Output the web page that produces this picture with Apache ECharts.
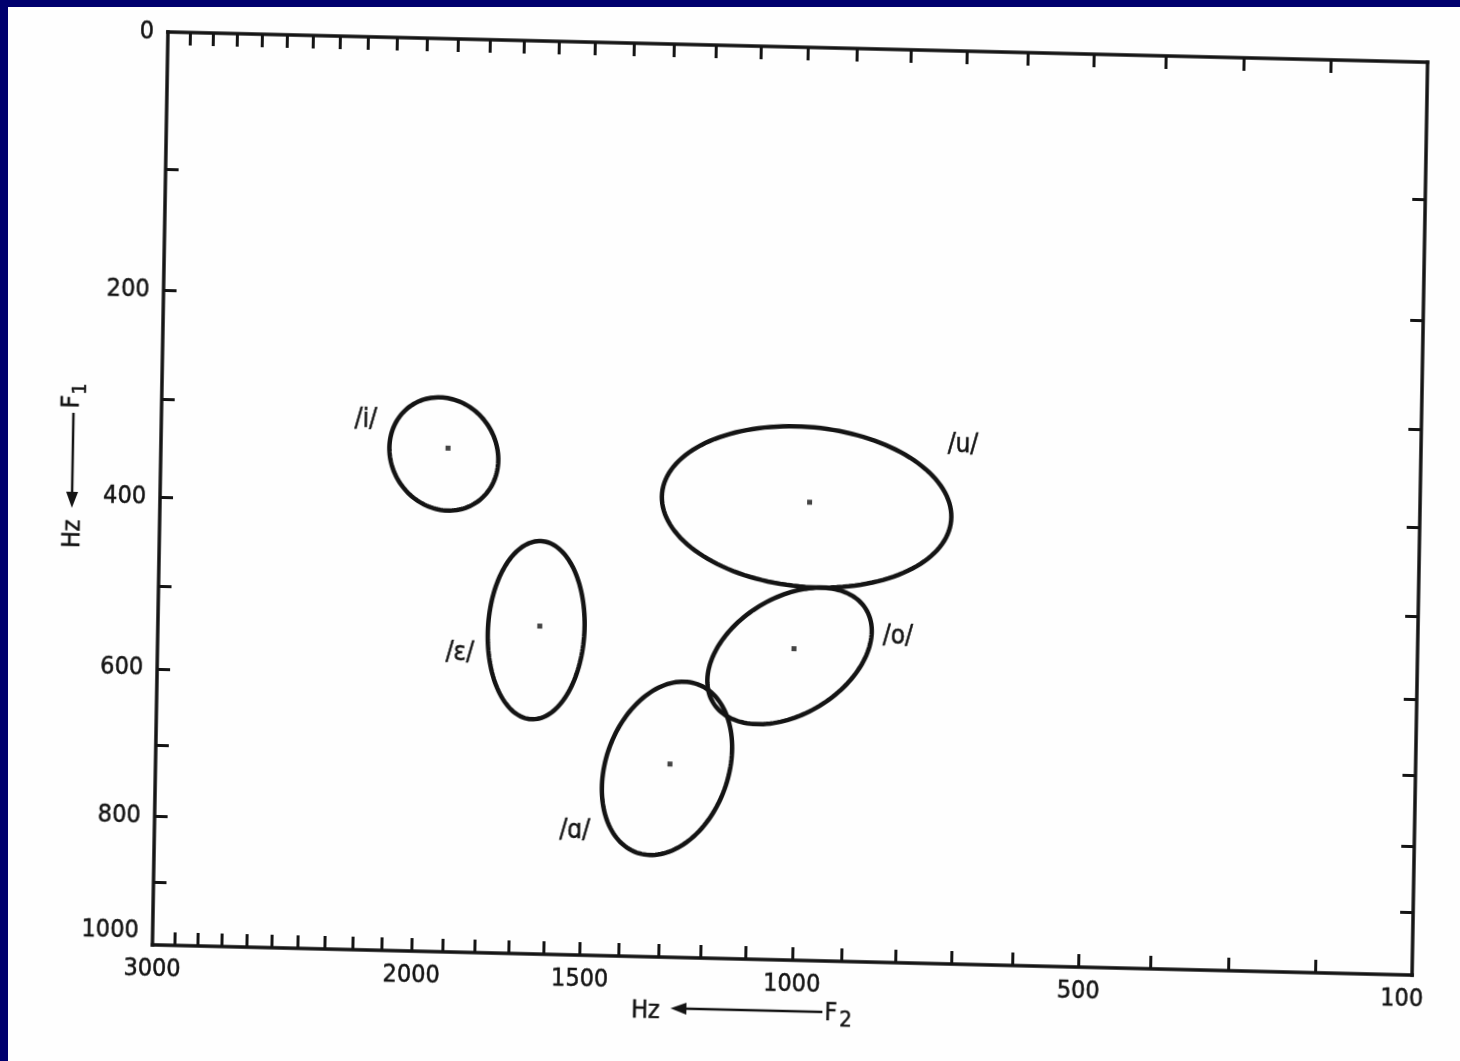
<!DOCTYPE html>
<html><head><meta charset="utf-8">
<script src="https://cdn.jsdelivr.net/npm/echarts@6/dist/echarts.min.js"></script>
<style>
html,body{margin:0;padding:0;width:1460px;height:1061px;overflow:hidden;background:#fefefe;}
#frame{position:absolute;left:0;top:0;width:1460px;height:1061px;box-sizing:border-box;border-top:7px solid #00006e;border-left:8px solid #00006e;pointer-events:none;}
#chart{position:absolute;left:0;top:0;width:1460px;height:1061px;transform-origin:168px 32px;transform:matrix(1,0.024,-0.017,1,0,0);}
</style></head><body>
<div id="chart"></div><div id="frame"></div>
<script>
// ---- data (Hz) ----
const vowels   = ['/i/', '/ε/', '/ɑ/', '/o/', '/u/'];
const meanF2   = [1910, 1626, 1280, 1007, 980];
const meanF1   = [342, 536, 709, 556, 389];
const centerF2 = [1923, 1636, 1287, 1016, 986];
const centerF1 = [348, 541, 715, 565, 394];
const axisAF2  = [1820, 1626, 1218, 865, 714];
const axisAF1  = [398, 438, 603, 507, 405];
const axisBF2  = [1788, 1503, 1152, 953, 999];
const axisBF1  = [318, 543, 742, 627, 482];
const labelF2  = [2186, 1862, 1520, 805, 696];
const labelF1  = [316, 571, 808, 539, 327];
const xRangeHz = [100, 3000];
const yRangeHz = [0, 1000];
const xTickHz  = [200,300,400,500,600,700,800,900,1000,1100,1200,1300,1400,1500,1600,1700,1800,1900,2000,2100,2200,2300,2400,2500,2600,2700,2800,2900];
const xLabelHz = [3000, 2000, 1500, 1000, 500, 100];
const yTickHz  = [100,200,300,400,500,600,700,800,900];
const yLabelHz = [0, 200, 400, 600, 800, 1000];

// mel frequency scale used by both axes
const mel = f => 2595 * Math.log10(1 + f / 700);
const invMel = m => 700 * (Math.pow(10, m / 2595) - 1);

const font = "'Liberation Sans Narrow','DejaVu Sans Condensed','Liberation Sans',sans-serif";
const ink = '#141414';
const txt = {fontSize: 25, fontFamily: font, color: ink, textBorderColor: ink, textBorderWidth: 0.5};

function xAx(pos, showLabel) {
  return {
    type: 'value', position: pos, min: mel(xRangeHz[0]), max: mel(xRangeHz[1]), inverse: true,
    axisLine: {show: true, onZero: false, lineStyle: {color: ink, width: 3.5, cap: 'square'}},
    axisTick: {show: true, inside: true, length: 13, customValues: xTickHz.map(mel), lineStyle: {color: ink, width: 3}},
    axisLabel: Object.assign({show: showLabel, customValues: xLabelHz.map(mel), showMinLabel: true, showMaxLabel: true,
      formatter: v => { const s = String(Math.round(invMel(v))); return s === String(xRangeHz[0]) ? '{edge|' + s + '}' : s; },
      rich: {edge: Object.assign({padding: [0, 20, 0, 0]}, txt)}, margin: 12}, txt),
    splitLine: {show: false}
  };
}
function yAx(pos, showLabel) {
  return {
    type: 'value', position: pos, min: mel(yRangeHz[0]), max: mel(yRangeHz[1]), inverse: true,
    axisLine: {show: true, onZero: false, lineStyle: {color: ink, width: 3.5, cap: 'square'}},
    axisTick: {show: true, inside: true, length: 13, customValues: yTickHz.map(mel), lineStyle: {color: ink, width: 3}},
    axisLabel: Object.assign({show: showLabel, customValues: yLabelHz.map(mel), showMinLabel: true, showMaxLabel: true,
      formatter: v => { const s = String(Math.round(invMel(v))); return s === String(yRangeHz[1]) ? '{edge|' + s + '}' : s; },
      rich: {edge: Object.assign({padding: [0, 0, 28, 0]}, txt)}, margin: 14}, txt),
    splitLine: {show: false}
  };
}

const ellipseData = vowels.map((v, i) => [
  mel(centerF2[i]), mel(centerF1[i]), mel(axisAF2[i]), mel(axisAF1[i]), mel(axisBF2[i]), mel(axisBF1[i])
]);
const dotData = vowels.map((v, i) => [mel(meanF2[i]), mel(meanF1[i])]);
const labelData = vowels.map((v, i) => [mel(labelF2[i]), mel(labelF1[i])]);

const chart = echarts.init(document.getElementById('chart'), null, {renderer: 'canvas'});
chart.setOption({
  animation: false,
  backgroundColor: 'transparent',
  grid: {left: 168, top: 32, width: 1260, height: 913, containLabel: false, outerBoundsMode: 'none'},
  xAxis: [xAx('bottom', true), xAx('top', false)],
  yAxis: [yAx('left', true), yAx('right', false)],
  series: [
    {
      type: 'custom', silent: true, xAxisIndex: 0, yAxisIndex: 0,
      data: ellipseData,
      encode: {x: [0, 2, 4], y: [1, 3, 5]},
      renderItem: (params, api) => {
        const c = api.coord([api.value(0), api.value(1)]);
        const a = api.coord([api.value(2), api.value(3)]);
        const b = api.coord([api.value(4), api.value(5)]);
        const u = [a[0] - c[0], a[1] - c[1]], w = [b[0] - c[0], b[1] - c[1]];
        const pts = [];
        const n = 144;
        for (let k = 0; k < n; k++) {
          const t = k / n * 2 * Math.PI, ct = Math.cos(t), st = Math.sin(t);
          pts.push([c[0] + u[0] * ct + w[0] * st, c[1] + u[1] * ct + w[1] * st]);
        }
        return {type: 'polygon', shape: {points: pts}, style: {fill: 'none', stroke: ink, lineWidth: 4.5}};
      }
    },
    {
      type: 'scatter', silent: true, xAxisIndex: 0, yAxisIndex: 0,
      data: dotData, symbol: 'rect', symbolSize: 5, itemStyle: {color: ink}
    },
    {
      type: 'custom', silent: true, xAxisIndex: 0, yAxisIndex: 0,
      data: labelData,
      encode: {x: 0, y: 1},
      renderItem: (params, api) => {
        const p = api.coord([api.value(0), api.value(1)]);
        return {type: 'text', x: p[0], y: p[1],
          style: {text: vowels[params.dataIndex], fontSize: 26, fontFamily: font, fill: ink, stroke: ink, lineWidth: 0.5, align: 'center', verticalAlign: 'middle'}};
      }
    }
  ],
  graphic: [
    {type: 'text', x: 662, y: 999, silent: true, style: {text: 'Hz', fontSize: 25, fontFamily: font, fill: ink, stroke: ink, lineWidth: 0.5, align: 'center', verticalAlign: 'middle'}},
    {type: 'line', silent: true, shape: {x1: 700, y1: 996, x2: 839, y2: 996}, style: {stroke: ink, lineWidth: 2.5}},
    {type: 'polygon', silent: true, shape: {points: [[687, 996], [703, 990], [703, 1002]]}, style: {fill: ink}},
    {type: 'text', x: 841, y: 997, silent: true, style: {text: 'F', fontSize: 25, fontFamily: font, fill: ink, stroke: ink, lineWidth: 0.5, align: 'left', verticalAlign: 'middle'}},
    {type: 'text', x: 856, y: 1004, silent: true, style: {text: '2', fontSize: 22, fontFamily: font, fill: ink, stroke: ink, lineWidth: 0.5, align: 'left', verticalAlign: 'middle'}},
    {type: 'text', x: 81.5, y: 536, rotation: Math.PI / 2, silent: true, style: {text: 'Hz', fontSize: 25, fontFamily: font, fill: ink, stroke: ink, lineWidth: 0.5, align: 'center', verticalAlign: 'middle'}},
    {type: 'line', silent: true, shape: {x1: 80, y1: 415, x2: 80, y2: 497}, style: {stroke: ink, lineWidth: 2.5}},
    {type: 'polygon', silent: true, shape: {points: [[80, 510], [74, 494], [86, 494]]}, style: {fill: ink}},
    {type: 'text', x: 78.5, y: 404, rotation: Math.PI / 2, silent: true, style: {text: 'F', fontSize: 25, fontFamily: font, fill: ink, stroke: ink, lineWidth: 0.5, align: 'center', verticalAlign: 'middle'}},
    {type: 'text', x: 87, y: 391, rotation: Math.PI / 2, silent: true, style: {text: '1', fontSize: 20, fontFamily: font, fill: ink, stroke: ink, lineWidth: 0.5, align: 'center', verticalAlign: 'middle'}}
  ]
});
</script>
</body></html>
